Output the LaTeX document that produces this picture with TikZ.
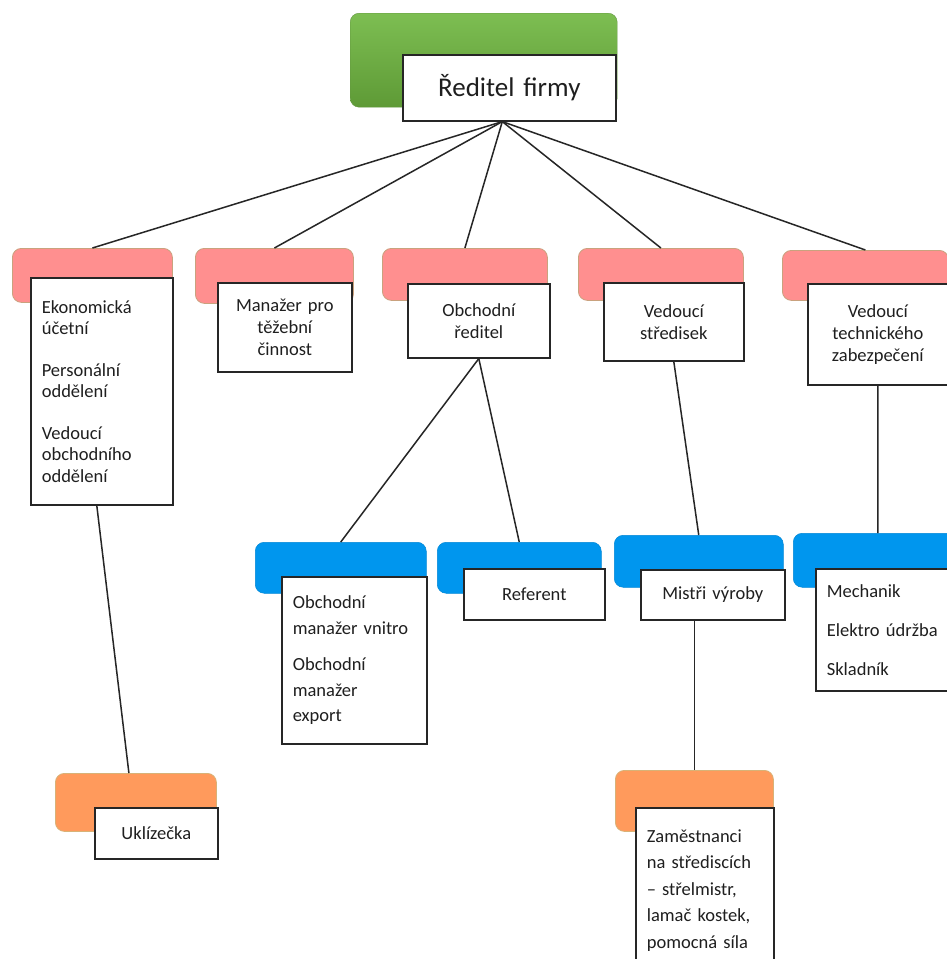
\documentclass[tikz,border=0pt]{standalone}
\usepackage{fontspec}
\setmainfont{Carlito}
\usepackage{xcolor}
\usetikzlibrary{positioning}

\definecolor{headtop}{HTML}{7DBE52}
\definecolor{headbot}{HTML}{5E9A36}
\definecolor{mgrpink}{HTML}{FF8F8F}
\definecolor{pinkedge}{HTML}{C9A27E}
\definecolor{teamblue}{HTML}{0096EE}
\definecolor{staffor}{HTML}{FF9A5C}
\definecolor{oredge}{HTML}{D8B277}

\begin{document}
\begin{tikzpicture}[
    x=1pt, y=-1pt,
    tile/.style={rounded corners=9pt, anchor=north west, inner sep=0pt},
    headtile/.style={tile, top color=headtop, bottom color=headbot, draw=headtop!80!black, line width=0.4pt},
    mgrtile/.style={tile, fill=mgrpink, draw=pinkedge, line width=0.8pt},
    teamtile/.style={tile, fill=teamblue, draw=teamblue!90!black, line width=0.5pt},
    stafftile/.style={tile, fill=staffor, draw=oredge, line width=0.8pt},
    card/.style={draw=black!85, line width=1.6pt, fill=white, anchor=north west,
        inner xsep=11pt, inner ysep=0pt, text=black!88,
        font=\fontsize{18.5}{22}\selectfont},
    link/.style={line width=1.5pt, black!85}
]

% Page frame
\useasboundingbox (0,0) rectangle (947,959);
\clip (0,0) rectangle (947,959);
\fill[white] (0,0) rectangle (947,959);

% Director
\node[headtile, minimum width=267pt, minimum height=94pt] (headbg) at (350,13) {};
\node[card, text width=191pt, minimum height=66pt, align=center,
      font=\fontsize{27}{32}\selectfont] (head) at (402,54) {Ředitel firmy};

% Managers (pink)
\node[mgrtile, minimum width=160pt, minimum height=54pt] (ekonbg) at (12,248) {};
\node[mgrtile, minimum width=158pt, minimum height=55pt] (tezbabg) at (195,248) {};
\node[mgrtile, minimum width=165pt, minimum height=52pt] (obchbg) at (382,248) {};
\node[mgrtile, minimum width=165pt, minimum height=52pt] (stredbg) at (578,248) {};
\node[mgrtile, minimum width=166pt, minimum height=50pt] (techbg) at (782,250) {};

\node[card, text width=120pt, minimum height=227pt, align=left,
      font=\fontsize{18.5}{21.5}\selectfont] (ekon) at (30,277)
      {Ekonomická\\účetní\\[20pt]Personální\\oddělení\\[20pt]Vedoucí\\obchodního\\oddělení};
\node[card, text width=112pt, minimum height=89pt, align=center] (tezba) at (217,282)
      {Manažer pro\\těžební\\činnost};
\node[card, text width=120pt, minimum height=74pt, align=center] (obch) at (407,283)
      {Obchodní\\ředitel};
\node[card, text width=118pt, minimum height=78pt, align=center] (stred) at (603,282)
      {Vedoucí\\středisek};
\node[card, text width=118pt, minimum height=101pt, align=center] (tech) at (807,283)
      {Vedoucí\\technického\\zabezpečení};

% Teams (blue)
\node[teamtile, minimum width=171pt, minimum height=51pt] (obmgrbg) at (255,542) {};
\node[teamtile, minimum width=164pt, minimum height=51pt] (referbg) at (437,542) {};
\node[teamtile, minimum width=169pt, minimum height=52pt] (mistribg) at (614,535) {};
\node[teamtile, minimum width=169pt, minimum height=54pt] (udrzbg) at (793,533) {};

\node[card, text width=123pt, minimum height=167pt, align=left,
      font=\fontsize{18.5}{25.5}\selectfont] (obmgr) at (281,576)
      {Obchodní\\manažer vnitro\\[11pt]Obchodní\\manažer\\export};
\node[card, text width=119pt, minimum height=51pt, align=center] (refer) at (463,568)
      {Referent};
\node[card, text width=122pt, minimum height=50pt, align=center] (mistri) at (640,569)
      {Mistři výroby};
\node[card, text width=123pt, minimum height=122pt, align=left] (udrz) at (815,568)
      {Mechanik\\[17pt]Elektro údržba\\[17pt]Skladník};

% Staff (orange)
\node[stafftile, minimum width=161pt, minimum height=58pt] (uklidbg) at (55,773) {};
\node[stafftile, minimum width=158pt, minimum height=61pt] (zamestbg) at (615,770) {};

\node[card, text width=101pt, minimum height=51pt, align=center] (uklid) at (94,807)
      {Uklízečka};
\node[card, text width=116pt, minimum height=165pt, align=left,
      font=\fontsize{18.5}{26.5}\selectfont] (zamest) at (635,807)
      {Zaměstnanci\\na střediscích\\-- střelmistr,\\lamač kostek,\\pomocná síla};

% Connectors
\foreach \b in {ekonbg,tezbabg,obchbg,stredbg,techbg}
    \draw[link] ([xshift=-7pt]head.south) -- (\b.north);
\draw[link] ([xshift=-5pt]ekon.south) -- ([xshift=-7pt]uklidbg.north);
\draw[link] (obch.south) -- (obmgrbg.north);
\draw[link] (obch.south) -- (referbg.north);
\draw[link] (stred.south) -- (mistribg.north);
\draw[link] (tech.south) -- (udrzbg.north);
\draw[link] (zamestbg.north |- mistri.south) -- (zamestbg.north);

\end{tikzpicture}
\end{document}
